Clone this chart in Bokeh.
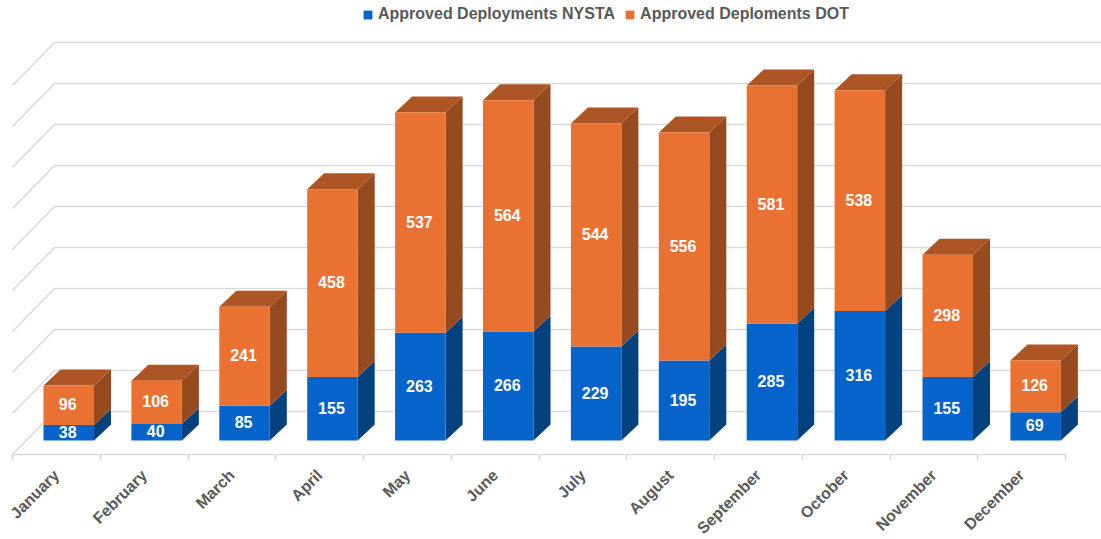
from math import pi
from bokeh.plotting import figure
from bokeh.models import ColumnDataSource, FixedTicker, Legend, LegendItem, Range1d
from bokeh.core.properties import value
from bokeh.embed import file_html
from bokeh.resources import INLINE

months = ["January", "February", "March", "April", "May", "June", "July",
          "August", "September", "October", "November", "December"]
nysta = [38, 40, 85, 155, 263, 266, 229, 195, 285, 316, 155, 69]
dot = [96, 106, 241, 458, 537, 564, 544, 556, 581, 538, 298, 126]
grid_values = [0, 100, 200, 300, 400, 500, 600, 700, 800, 900]

# pixel scale helpers (geometry of the pseudo-3D projection)
PX_X = 87.75
PX_Y = 0.41
BAR_PITCH = 87.9 / PX_X
BAR_L = 31 / PX_X
BAR_W = 50.5 / PX_X
DEPTH_X = 17 / PX_X
DEPTH_Y = 16 / PX_Y
WALL_X = 42 / PX_X
WALL_Y = 29 / PX_Y
FLOOR_Y = -14 / PX_Y

FW, FH = 1101, 454
x0 = -12 / PX_X
y0 = FLOOR_Y
p = figure(frame_width=FW, frame_height=FH, output_backend="svg", toolbar_location=None,
           x_range=Range1d(x0, x0 + FW / PX_X), y_range=Range1d(y0, y0 + FH / PX_Y),
           min_border=0, outline_line_color=None, background_fill_color="white")
p.grid.visible = False
p.yaxis.visible = False

GRID = "#DADADA"
x_end = x0 + FW / PX_X
xs, ys = [], []
for v in grid_values:
    yb = v + WALL_Y
    xs.append([0, WALL_X, x_end])
    ys.append([yb - (WALL_Y - FLOOR_Y), yb, yb])
p.multi_line(xs, ys, line_color=GRID, line_width=1.6)

BLUE, BLUE_SIDE = "#0563C9", "#03417F"
ORANGE, ORANGE_SIDE, ORANGE_TOP = "#E97132", "#954A1F", "#AE5526"

n = len(months)
lefts = [i * BAR_PITCH + BAR_L for i in range(n)]
rights = [l + BAR_W for l in lefts]
tops = [a + b for a, b in zip(nysta, dot)]

def side(bottoms, uppers):
    return ([[r, r + DEPTH_X, r + DEPTH_X, r] for r in rights],
            [[b, b + DEPTH_Y, u + DEPTH_Y, u] for b, u in zip(bottoms, uppers)])

sx, sy = side([0] * n, nysta)
p.patches(sx, sy, fill_color=BLUE_SIDE, line_color=None)
sx, sy = side(nysta, tops)
p.patches(sx, sy, fill_color=ORANGE_SIDE, line_color=None)
p.patches([[l, r, r + DEPTH_X, l + DEPTH_X] for l, r in zip(lefts, rights)],
          [[t, t, t + DEPTH_Y, t + DEPTH_Y] for t in tops],
          fill_color=ORANGE_TOP, line_color=None)

src = ColumnDataSource(dict(
    left=lefts, right=rights, nysta=nysta, dot=dot, top=tops,
    base=[0] * n, cx=[l + BAR_W / 2 for l in lefts],
    y1=[a / 2 for a in nysta], y2=[a + b / 2 for a, b in zip(nysta, dot)],
    t1=[str(a) for a in nysta], t2=[str(b) for b in dot]))
r1 = p.quad(left="left", right="right", bottom="base", top="nysta", source=src,
            fill_color=BLUE, line_color=None)
r2 = p.quad(left="left", right="right", bottom="nysta", top="top", source=src,
            fill_color=ORANGE, line_color=None)
for yc, tc in (("y1", "t1"), ("y2", "t2")):
    p.text(x="cx", y=yc, text=tc, source=src, text_color="white",
           text_font=value("Liberation Sans"), text_font_style="bold", text_font_size="16px",
           text_align="center", text_baseline="middle", x_offset=-1, y_offset=-1)

ax = p.xaxis[0]
ax.ticker = FixedTicker(ticks=[i + 0.5 for i in range(n)], minor_ticks=list(range(n + 1)))
ax.major_label_overrides = {i + 0.5: m for i, m in enumerate(months)}
ax.major_label_orientation = pi / 4
ax.major_label_text_font = "Liberation Sans"
ax.major_label_text_font_style = "bold"
ax.major_label_text_font_size = "16px"
ax.major_label_text_color = "#595959"
ax.major_label_standoff = 12
ax.major_tick_line_color = None
ax.major_tick_in = 0
ax.major_tick_out = 0
ax.minor_tick_line_color = GRID
ax.minor_tick_line_width = 1.6
ax.minor_tick_in = 0
ax.minor_tick_out = 6
ax.axis_line_color = GRID
ax.axis_line_width = 1.6
ax.bounds = (0, n)

legend = Legend(items=[LegendItem(label="Approved Deployments NYSTA", renderers=[r1]),
                       LegendItem(label="Approved Deploments DOT", renderers=[r2])],
                orientation="horizontal", location=(362, FH - 23), padding=0, margin=0, spacing=9,
                glyph_width=11, glyph_height=11, label_standoff=5,
                label_text_font="Liberation Sans", label_text_font_style="bold",
                label_text_font_size="16px", label_text_color="#595959",
                border_line_color=None, background_fill_alpha=0)
p.add_layout(legend, "center")

open("out.html", "w").write(file_html(p, INLINE))
